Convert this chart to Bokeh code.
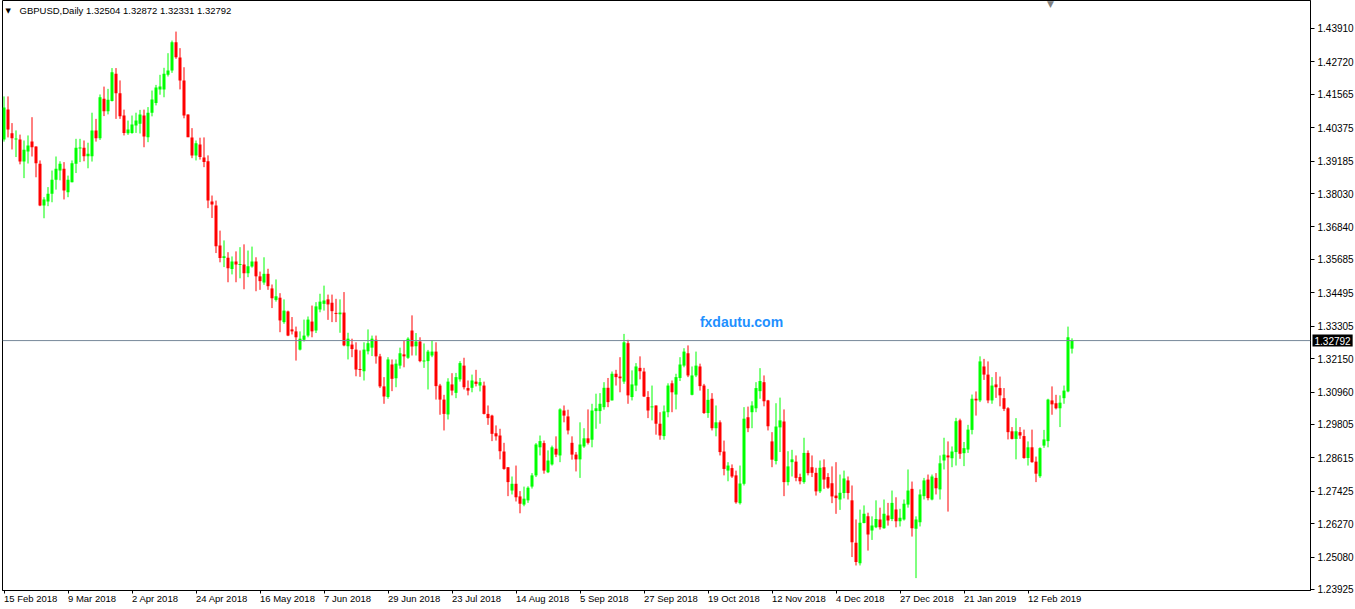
from bokeh.plotting import figure
from bokeh.models import Range1d, FixedTicker, Span, Label, ColumnDataSource, PrintfTickFormatter
from bokeh.embed import file_html
from bokeh.resources import INLINE

symbol = "GBPUSD"
timeframe = "Daily"
watermark = "fxdautu.com"

date_labels = ["15 Feb 2018", "9 Mar 2018", "2 Apr 2018", "24 Apr 2018", "16 May 2018",
               "7 Jun 2018", "29 Jun 2018", "23 Jul 2018", "14 Aug 2018", "5 Sep 2018",
               "27 Sep 2018", "19 Oct 2018", "12 Nov 2018", "4 Dec 2018", "27 Dec 2018",
               "21 Jan 2019", "12 Feb 2019"]
label_step = 16

price_ticks = [1.43910, 1.42720, 1.41565, 1.40375, 1.39185, 1.38030, 1.36840, 1.35685,
               1.34495, 1.33305, 1.32150, 1.30960, 1.29805, 1.28615, 1.27425, 1.26270,
               1.25080, 1.23925]

opens = [1.3996, 1.4102, 1.4018, 1.3996, 1.3996, 1.3917, 1.3953, 1.3988, 1.3971, 1.3909,
         1.3760, 1.3775, 1.3802, 1.3852, 1.3885, 1.3891, 1.3808, 1.3843, 1.3909, 1.3964,
         1.3966, 1.3936, 1.3936, 1.4028, 1.4000, 1.4141, 1.4096, 1.4133, 1.4230, 1.4160,
         1.4081, 1.4018, 1.4019, 1.4045, 1.4052, 1.4081, 1.4004, 1.4091, 1.4126, 1.4174,
         1.4174, 1.4226, 1.4241, 1.4342, 1.4288, 1.4206, 1.4085, 1.4003, 1.3939, 1.3978,
         1.3931, 1.3918, 1.3775, 1.3760, 1.3618, 1.3573, 1.3574, 1.3534, 1.3561, 1.3549,
         1.3550, 1.3519, 1.3543, 1.3561, 1.3508, 1.3486, 1.3517, 1.3465, 1.3424, 1.3432,
         1.3345, 1.3383, 1.3319, 1.3312, 1.3247, 1.3282, 1.3297, 1.3347, 1.3315, 1.3390,
         1.3410, 1.3426, 1.3414, 1.3377, 1.3373, 1.3379, 1.3259, 1.3265, 1.3247, 1.3177,
         1.3170, 1.3241, 1.3254, 1.3282, 1.3223, 1.3116, 1.3078, 1.3194, 1.3145, 1.3190,
         1.3230, 1.3218, 1.3315, 1.3259, 1.3276, 1.3206, 1.3206, 1.3226, 1.3240, 1.3119,
         1.3069, 1.3016, 1.3123, 1.3093, 1.3141, 1.3190, 1.3110, 1.3111, 1.3133, 1.3119,
         1.3119, 1.3018, 1.3012, 1.2949, 1.2941, 1.2884, 1.2828, 1.2745, 1.2769, 1.2724,
         1.2695, 1.2710, 1.2759, 1.2799, 1.2899, 1.2914, 1.2810, 1.2838, 1.2894, 1.2870,
         1.3030, 1.3009, 1.2915, 1.2873, 1.2856, 1.2902, 1.2931, 1.2926, 1.3028, 1.3028,
         1.3042, 1.3111, 1.3066, 1.3161, 1.3151, 1.3133, 1.3270, 1.3078, 1.3119, 1.3182,
         1.3169, 1.3078, 1.3042, 1.3048, 1.2983, 1.2939, 1.3024, 1.3127, 1.3087, 1.3146,
         1.3190, 1.3234, 1.3086, 1.3155, 1.3187, 1.3119, 1.3021, 1.3072, 1.2967, 1.2988,
         1.2884, 1.2816, 1.2825, 1.2799, 1.2700, 1.2769, 1.3006, 1.3024, 1.3038, 1.3099,
         1.3131, 1.3066, 1.2920, 1.2850, 1.2970, 1.2991, 1.2775, 1.2846, 1.2848, 1.2793,
         1.2775, 1.2879, 1.2828, 1.2808, 1.2742, 1.2828, 1.2793, 1.2771, 1.2727, 1.2713,
         1.2736, 1.2781, 1.2710, 1.2559, 1.2486, 1.2629, 1.2653, 1.2603, 1.2614, 1.2642,
         1.2611, 1.2656, 1.2644, 1.2677, 1.2636, 1.2642, 1.2695, 1.2751, 1.2609, 1.2632,
         1.2725, 1.2784, 1.2713, 1.2790, 1.2749, 1.2852, 1.2870, 1.2860, 1.2882, 1.2995,
         1.2878, 1.2891, 1.2961, 1.3072, 1.3066, 1.3187, 1.3158, 1.3066, 1.3123, 1.3110,
         1.3074, 1.3038, 1.2956, 1.2929, 1.2953, 1.2939, 1.2861, 1.2899, 1.2848, 1.2796,
         1.2905, 1.2921, 1.3066, 1.3056, 1.3038, 1.3074, 1.3098, 1.32504]

highs = [1.4149, 1.4149, 1.4054, 1.4028, 1.4013, 1.3992, 1.4010, 1.4075, 1.3971, 1.3921,
         1.3790, 1.3826, 1.3885, 1.3935, 1.3918, 1.3915, 1.3867, 1.3921, 1.3998, 1.3998,
         1.3992, 1.3984, 1.4091, 1.4069, 1.4156, 1.4184, 1.4176, 1.4250, 1.4250, 1.4206,
         1.4102, 1.4063, 1.4081, 1.4091, 1.4101, 1.4102, 1.4111, 1.4170, 1.4190, 1.4226,
         1.4251, 1.4303, 1.4348, 1.4380, 1.4321, 1.4253, 1.4085, 1.4036, 1.3992, 1.4002,
         1.4003, 1.3939, 1.3796, 1.3778, 1.3671, 1.3636, 1.3594, 1.3579, 1.3597, 1.3612,
         1.3622, 1.3600, 1.3614, 1.3576, 1.3525, 1.3576, 1.3535, 1.3479, 1.3497, 1.3448,
         1.3426, 1.3386, 1.3363, 1.3329, 1.3312, 1.3354, 1.3365, 1.3404, 1.3416, 1.3446,
         1.3475, 1.3443, 1.3443, 1.3428, 1.3426, 1.3452, 1.3307, 1.3286, 1.3273, 1.3244,
         1.3273, 1.3319, 1.3297, 1.3297, 1.3232, 1.3149, 1.3220, 1.3212, 1.3212, 1.3254,
         1.3280, 1.3291, 1.3369, 1.3306, 1.3291, 1.3269, 1.3246, 1.3280, 1.3273, 1.3125,
         1.3086, 1.3145, 1.3163, 1.3164, 1.3206, 1.3218, 1.3137, 1.3158, 1.3175, 1.3146,
         1.3133, 1.3048, 1.3015, 1.2977, 1.2965, 1.2915, 1.2828, 1.2795, 1.2834, 1.2743,
         1.2759, 1.2760, 1.2807, 1.2914, 1.2941, 1.2923, 1.2888, 1.2905, 1.2938, 1.3038,
         1.3048, 1.3033, 1.2938, 1.2882, 1.2988, 1.2967, 1.3034, 1.3054, 1.3090, 1.3092,
         1.3131, 1.3146, 1.3169, 1.3175, 1.3220, 1.3303, 1.3282, 1.3173, 1.3199, 1.3223,
         1.3182, 1.3099, 1.3119, 1.3048, 1.3024, 1.3048, 1.3127, 1.3137, 1.3161, 1.3220,
         1.3252, 1.3262, 1.3187, 1.3240, 1.3197, 1.3125, 1.3107, 1.3092, 1.3048, 1.2995,
         1.2923, 1.2846, 1.2838, 1.2816, 1.2834, 1.3042, 1.3044, 1.3063, 1.3131, 1.3181,
         1.3155, 1.3068, 1.2953, 1.3056, 1.3076, 1.3034, 1.2885, 1.2890, 1.2870, 1.2805,
         1.2933, 1.2888, 1.2870, 1.2826, 1.2852, 1.2856, 1.2807, 1.2831, 1.2846, 1.2802,
         1.2816, 1.2795, 1.2763, 1.2642, 1.2677, 1.2692, 1.2666, 1.2653, 1.2710, 1.2684,
         1.2713, 1.2701, 1.2745, 1.2721, 1.2680, 1.2713, 1.2820, 1.2777, 1.2653, 1.2749,
         1.2790, 1.2802, 1.2802, 1.2807, 1.2870, 1.2933, 1.2920, 1.2902, 1.3004, 1.3001,
         1.2918, 1.2979, 1.3087, 1.3098, 1.3223, 1.3214, 1.3205, 1.3149, 1.3167, 1.3151,
         1.3110, 1.3042, 1.2971, 1.3003, 1.2971, 1.2962, 1.2920, 1.2962, 1.2866, 1.2899,
         1.2961, 1.3072, 1.3116, 1.3086, 1.3084, 1.3119, 1.3329, 1.32872]

lows = [1.3988, 1.4003, 1.3960, 1.3933, 1.3907, 1.3858, 1.3910, 1.3935, 1.3861, 1.3758,
        1.3715, 1.3758, 1.3772, 1.3817, 1.3850, 1.3782, 1.3790, 1.3843, 1.3876, 1.3915,
        1.3918, 1.3893, 1.3917, 1.3988, 1.3994, 1.4079, 1.4085, 1.4131, 1.4069, 1.4069,
        1.4010, 1.4012, 1.4016, 1.4019, 1.4017, 1.3968, 1.3986, 1.4078, 1.4117, 1.4155,
        1.4146, 1.4220, 1.4233, 1.4283, 1.4174, 1.4071, 1.4004, 1.3929, 1.3921, 1.3924,
        1.3897, 1.3751, 1.3716, 1.3591, 1.3558, 1.3541, 1.3487, 1.3515, 1.3487, 1.3501,
        1.3462, 1.3505, 1.3539, 1.3455, 1.3460, 1.3478, 1.3460, 1.3395, 1.3418, 1.3309,
        1.3339, 1.3295, 1.3301, 1.3208, 1.3244, 1.3276, 1.3291, 1.3291, 1.3306, 1.3380,
        1.3386, 1.3353, 1.3345, 1.3345, 1.3307, 1.3259, 1.3212, 1.3220, 1.3152, 1.3150,
        1.3137, 1.3230, 1.3224, 1.3197, 1.3110, 1.3054, 1.3072, 1.3099, 1.3113, 1.3179,
        1.3184, 1.3214, 1.3226, 1.3226, 1.3202, 1.3182, 1.3105, 1.3220, 1.3069, 1.3015,
        1.2959, 1.2998, 1.3084, 1.3074, 1.3133, 1.3105, 1.3084, 1.3095, 1.3116, 1.3098,
        1.3016, 1.2979, 1.2921, 1.2923, 1.2856, 1.2819, 1.2725, 1.2731, 1.2706, 1.2664,
        1.2689, 1.2701, 1.2752, 1.2793, 1.2870, 1.2805, 1.2807, 1.2834, 1.2864, 1.2846,
        1.2988, 1.2945, 1.2855, 1.2813, 1.2790, 1.2897, 1.2909, 1.2899, 1.2965, 1.2983,
        1.3033, 1.3042, 1.3066, 1.3119, 1.3095, 1.3125, 1.3054, 1.3066, 1.3099, 1.3141,
        1.3078, 1.3003, 1.2995, 1.2944, 1.2926, 1.2926, 1.3006, 1.3024, 1.3034, 1.3135,
        1.3184, 1.3149, 1.3084, 1.3149, 1.3101, 1.3018, 1.3004, 1.2959, 1.2938, 1.2870,
        1.2799, 1.2778, 1.2790, 1.2698, 1.2695, 1.2763, 1.2953, 1.2967, 1.3024, 1.3072,
        1.3045, 1.2959, 1.2828, 1.2838, 1.2882, 1.2725, 1.2763, 1.2795, 1.2778, 1.2767,
        1.2769, 1.2799, 1.2793, 1.2727, 1.2736, 1.2751, 1.2751, 1.2700, 1.2662, 1.2676,
        1.2717, 1.2713, 1.2508, 1.2478, 1.2478, 1.2628, 1.2531, 1.2569, 1.2611, 1.2606,
        1.2609, 1.2620, 1.2636, 1.2614, 1.2617, 1.2638, 1.2684, 1.2581, 1.2433, 1.2617,
        1.2713, 1.2710, 1.2710, 1.2731, 1.2713, 1.2820, 1.2670, 1.2828, 1.2834, 1.2858,
        1.2832, 1.2879, 1.2945, 1.3012, 1.3060, 1.3139, 1.3056, 1.3054, 1.3075, 1.3045,
        1.3028, 1.2927, 1.2927, 1.2856, 1.2929, 1.2858, 1.2834, 1.2844, 1.2775, 1.2790,
        1.2897, 1.2899, 1.3015, 1.3034, 1.2971, 1.3054, 1.3095, 1.32331]

closes = [1.4110, 1.4031, 1.4000, 1.3999, 1.3917, 1.3959, 1.3974, 1.3968, 1.3911, 1.3760,
          1.3782, 1.3802, 1.3852, 1.3891, 1.3909, 1.3814, 1.3852, 1.3911, 1.3966, 1.3966,
          1.3936, 1.3945, 1.4028, 1.4000, 1.4146, 1.4096, 1.4137, 1.4235, 1.4160, 1.4078,
          1.4019, 1.4031, 1.4049, 1.4063, 1.4085, 1.4006, 1.4091, 1.4138, 1.4181, 1.4184,
          1.4230, 1.4241, 1.4342, 1.4289, 1.4206, 1.4081, 1.4004, 1.3939, 1.3982, 1.3933,
          1.3915, 1.3778, 1.3764, 1.3615, 1.3573, 1.3580, 1.3537, 1.3561, 1.3550, 1.3551,
          1.3519, 1.3544, 1.3561, 1.3508, 1.3491, 1.3517, 1.3473, 1.3430, 1.3437, 1.3351,
          1.3386, 1.3297, 1.3312, 1.3291, 1.3286, 1.3297, 1.3354, 1.3312, 1.3401, 1.3418,
          1.3422, 1.3408, 1.3384, 1.3375, 1.3379, 1.3262, 1.3286, 1.3249, 1.3176, 1.3175,
          1.3247, 1.3270, 1.3286, 1.3223, 1.3116, 1.3080, 1.3212, 1.3143, 1.3197, 1.3234,
          1.3223, 1.3286, 1.3258, 1.3276, 1.3206, 1.3207, 1.3240, 1.3240, 1.3117, 1.3069,
          1.3018, 1.3133, 1.3101, 1.3149, 1.3199, 1.3113, 1.3101, 1.3137, 1.3125, 1.3131,
          1.3018, 1.3003, 1.2947, 1.2938, 1.2885, 1.2822, 1.2775, 1.2769, 1.2721, 1.2698,
          1.2716, 1.2755, 1.2799, 1.2909, 1.2921, 1.2816, 1.2852, 1.2899, 1.2873, 1.3034,
          1.3012, 1.2959, 1.2873, 1.2856, 1.2909, 1.2931, 1.2915, 1.3030, 1.3038, 1.3054,
          1.3111, 1.3060, 1.3161, 1.3149, 1.3145, 1.3273, 1.3084, 1.3123, 1.3187, 1.3170,
          1.3080, 1.3030, 1.3044, 1.2983, 1.2941, 1.3027, 1.3119, 1.3095, 1.3149, 1.3194,
          1.3240, 1.3155, 1.3155, 1.3190, 1.3117, 1.3021, 1.3068, 1.2967, 1.2988, 1.2882,
          1.2822, 1.2834, 1.2795, 1.2703, 1.2770, 1.3001, 1.2967, 1.3048, 1.3110, 1.3135,
          1.3063, 1.2974, 1.2855, 1.2973, 1.2995, 1.2775, 1.2831, 1.2856, 1.2790, 1.2778,
          1.2879, 1.2807, 1.2808, 1.2742, 1.2826, 1.2784, 1.2755, 1.2724, 1.2718, 1.2737,
          1.2788, 1.2736, 1.2561, 1.2490, 1.2630, 1.2662, 1.2588, 1.2620, 1.2644, 1.2614,
          1.2662, 1.2638, 1.2701, 1.2636, 1.2648, 1.2698, 1.2745, 1.2611, 1.2642, 1.2731,
          1.2781, 1.2718, 1.2795, 1.2753, 1.2842, 1.2873, 1.2863, 1.2884, 1.2992, 1.2876,
          1.2896, 1.2962, 1.3072, 1.3066, 1.3205, 1.3158, 1.3066, 1.3119, 1.3113, 1.3084,
          1.3036, 1.2953, 1.2929, 1.2956, 1.2941, 1.2861, 1.2899, 1.2846, 1.2805, 1.2896,
          1.2927, 1.3069, 1.3052, 1.3038, 1.3058, 1.3101, 1.3291, 1.32792]

# ---------------- layout ----------------
W, H = 1355, 609
FRAME_L, FRAME_W, FRAME_H = 2, 1308, 590
BAR_PX = 4.0
X0 = -0.375
X1 = X0 + FRAME_W / BAR_PX
Y1 = 1.449075
Y0 = 1.238886
PX_PER_PRICE = FRAME_H / (Y1 - Y0)

def x_at(px):
    return X0 + (px - FRAME_L) / BAR_PX

def y_at(py):
    return Y1 - py / PX_PER_PRICE

BULL, BEAR = "#00FF00", "#FF0000"
FONT = "Liberation Sans"

n = len(opens)
idx = list(range(n))
colors = [BULL if c >= o else BEAR for o, c in zip(opens, closes)]
min_body = 1.0 / PX_PER_PRICE
tops, bots = [], []
for o, c in zip(opens, closes):
    t, b = max(o, c), min(o, c)
    if t - b < min_body:
        m = (t + b) / 2
        t, b = m + min_body / 2, m - min_body / 2
    tops.append(t)
    bots.append(b)

src = ColumnDataSource(dict(x=idx, o=opens, h=highs, l=lows, c=closes,
                            top=tops, bottom=bots, color=colors))

p = figure(frame_width=FRAME_W, frame_height=FRAME_H,
           x_range=Range1d(X0, X1), y_range=Range1d(Y0, Y1),
           output_backend="svg", toolbar_location=None,
           y_axis_location="right",
           min_border_left=FRAME_L, min_border_top=0,
           min_border_right=W - FRAME_L - FRAME_W, min_border_bottom=H - FRAME_H)

p.background_fill_color = "white"
p.border_fill_color = "white"
p.outline_line_color = "black"
p.outline_line_width = 1
p.xgrid.visible = False
p.ygrid.visible = False

# price axis
p.yaxis.ticker = FixedTicker(ticks=price_ticks, minor_ticks=[])
p.yaxis.formatter = PrintfTickFormatter(format="%.5f")
p.yaxis.major_tick_out = 4
p.yaxis.major_tick_in = 0
p.yaxis.minor_tick_out = 0
p.yaxis.major_label_standoff = 3
p.yaxis.axis_line_color = "black"
p.yaxis.major_tick_line_color = "black"
p.yaxis.major_label_text_font = FONT
p.yaxis.major_label_text_font_size = "10px"
p.yaxis.major_label_text_color = "black"

# time axis (labels start at their tick, as in the terminal)
xt = [k * label_step for k in range(len(date_labels))]
p.xaxis.ticker = FixedTicker(ticks=xt, minor_ticks=[])
p.xaxis.major_label_overrides = {t: lab for t, lab in zip(xt, date_labels)}
p.xaxis.major_label_orientation = -1e-6
p.xaxis.major_tick_out = 3
p.xaxis.major_tick_in = 0
p.xaxis.minor_tick_out = 0
p.xaxis.major_label_standoff = 5
p.xaxis.axis_line_color = "black"
p.xaxis.major_label_text_font = FONT
p.xaxis.major_label_text_font_size = "9.5px"
p.xaxis.major_label_text_color = "black"

# candles
p.segment(x0="x", y0="l", x1="x", y1="h", line_color="color", line_width=1, source=src)
p.vbar(x="x", width=0.75, top="top", bottom="bottom", fill_color="color",
       line_color=None, source=src)

# bid line and price label on the price scale
last = closes[-1]
p.add_layout(Span(location=last, dimension="width", line_color="#778899", line_width=1))
p.add_layout(Label(x=x_at(FRAME_L + FRAME_W + 2), y=last, text="%.5f" % last,
                   text_color="white", background_fill_color="black",
                   text_font=FONT, text_font_size="10px",
                   text_baseline="middle", text_align="left", padding=2), "right")

# watermark
p.add_layout(Label(x=x_at(741), y=y_at(321), text=watermark, text_color="#1E90FF",
                   text_font=FONT, text_font_size="14px", text_font_style="bold",
                   text_align="center", text_baseline="middle"))

# header
p.add_layout(Label(x=x_at(5), y=y_at(10), text="\u25BC", text_color="black",
                   text_font="DejaVu Sans", text_font_size="7px",
                   text_align="left", text_baseline="middle"))
header = "%s,%s  %.5f %.5f %.5f %.5f" % (symbol, timeframe, opens[-1], highs[-1], lows[-1], closes[-1])
p.add_layout(Label(x=x_at(19), y=y_at(10), text=header, text_color="black",
                   text_font=FONT, text_font_size="9.5px",
                   text_align="left", text_baseline="middle"))

# chart shift marker
p.add_layout(Label(x=x_at(1050), y=y_at(3), text="\u25BC", text_color="#808080",
                   text_font="DejaVu Sans", text_font_size="9px",
                   text_align="center", text_baseline="middle"))

html = file_html(p, INLINE)
html = html.replace("<head>", "<head><style>html,body{margin:0;padding:0;overflow:hidden;}</style>", 1)
open("out.html", "w").write(html)
